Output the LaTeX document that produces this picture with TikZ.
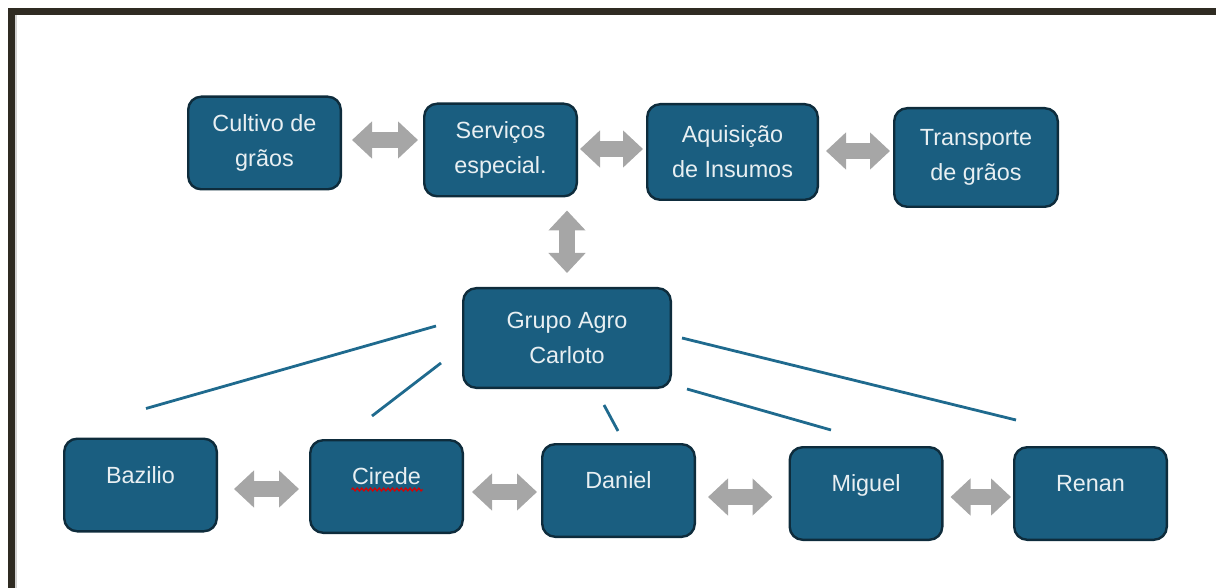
\documentclass[tikz,border=0pt]{standalone}
\usepackage{fontspec}
\setmainfont{Liberation Sans}
\usetikzlibrary{arrows.meta, positioning}
\usetikzlibrary{calc,decorations.pathmorphing}

\definecolor{caixa}{HTML}{1A5E80}
\definecolor{borda}{HTML}{0E2C3C}
\definecolor{seta}{HTML}{A6A6A6}
\definecolor{moldura}{HTML}{2F2B22}
\definecolor{linha}{HTML}{1F6A8E}

\begin{document}
\begin{tikzpicture}[
        x=0.5pt, y=-0.5pt,
        box/.style={rectangle, rounded corners=6.5pt, draw=borda, line width=1.2pt, fill=caixa,
            text=white!90!caixa, align=center, font=\fontsize{11.7}{17.5}\selectfont,
            minimum width=76.3pt, minimum height=46.3pt, inner sep=0pt},
        nome/.style={box, text height=8.5pt, text depth=10.5pt},
        duplo/.style={draw=seta, line width=8pt,
            {Triangle[width=18pt,length=10pt]}-{Triangle[width=18pt,length=10pt]}},
        ligacao/.style={draw=linha, line width=1.4pt}
    ]
        \useasboundingbox (0,0) rectangle (1216,588);

        % Moldura
        \draw [moldura, line width=3.5pt] (11,588) -- (11,12) -- (1216,12);
        \draw [gray!35, line width=1pt] (16,588) -- (16,15);

        % Linha de cima
        \node [box](cultivo) at (264.5,143) {Cultivo de\\grãos};
        \node [box](servicos) at (500.5,150) {Serviços\\especial.};
        \node [box, minimum width=85.3pt, minimum height=47.8pt](aquisicao) at (732.5,152) {Aquisição\\de Insumos};
        \node [box, minimum width=81.8pt, minimum height=49.3pt](transporte) at (976,157.5) {Transporte\\de grãos};

        % Grupo
        \node [box, minimum width=103.8pt, minimum height=49.8pt](grupo) at (567,338) {Grupo Agro\\Carloto};

        % Linha de baixo
        \node [nome](bazilio) at (140.5,485) {Bazilio};
        \node [nome](cirede) at (386.5,486.5) {Cirede};
        \node [nome](daniel) at (618.5,490.5) {Daniel};
        \node [nome](miguel) at (866,493.5) {Miguel};
        \node [nome](renan) at (1090.5,493.5) {Renan};

        % Setas duplas
        \draw [duplo] ([xshift=5pt, yshift=1.5pt]cultivo.east) -- ([xshift=-2.5pt, yshift=5pt]servicos.west);
        \draw [duplo] ([xshift=1pt, yshift=0.5pt]servicos.east) -- ([xshift=-1.5pt, yshift=1.5pt]aquisicao.west);
        \draw [duplo] ([xshift=3.5pt, yshift=0.5pt]aquisicao.east) -- ([xshift=-1.5pt, yshift=3.25pt]transporte.west);
        \draw [duplo] ([yshift=-6.5pt]servicos.south -| grupo.north) -- ([yshift=7pt]grupo.north);
        \draw [duplo] ([xshift=8pt, yshift=-2pt]bazilio.east) -- ([xshift=-5pt, yshift=-1.25pt]cirede.west);
        \draw [duplo] ([xshift=4pt, yshift=-2.75pt]cirede.east) -- ([xshift=-2pt, yshift=-0.75pt]daniel.west);
        \draw [duplo] ([xshift=6pt, yshift=-3.25pt]daniel.east) -- ([xshift=-8pt, yshift=-1.75pt]miguel.west);
        \draw [duplo] ([xshift=3.5pt, yshift=-1.75pt]miguel.east) -- ([xshift=-1pt, yshift=-1.75pt]renan.west);

        % Ligações do grupo
        \draw [ligacao] ([xshift=-13pt, yshift=6pt]grupo.west) -- ([xshift=2.75pt, yshift=14.5pt]bazilio.north);
        \draw [ligacao] ([xshift=-10.5pt, yshift=-12.5pt]grupo.west) -- ([xshift=-7.25pt, yshift=11.5pt]cirede.north);
        \draw [ligacao] ([xshift=18.5pt, yshift=-8pt]grupo.south) -- ([xshift=-0.25pt, yshift=6pt]daniel.north);
        \draw [ligacao] ([xshift=7.5pt]grupo.south east) -- ([xshift=-17.5pt, yshift=8pt]miguel.north);
        \draw [ligacao] ([xshift=5pt]grupo.east) -- ([xshift=-37.25pt, yshift=13pt]renan.north);

        % Sublinhado do corretor
        \draw [red!85!black, line width=0.6pt, decorate, decoration={snake, amplitude=0.7pt, segment length=2.2pt}]
            ([xshift=-17.5pt, yshift=-1.5pt]cirede.center) -- ([xshift=18pt, yshift=-1.5pt]cirede.center);
    \end{tikzpicture}
\end{document}
